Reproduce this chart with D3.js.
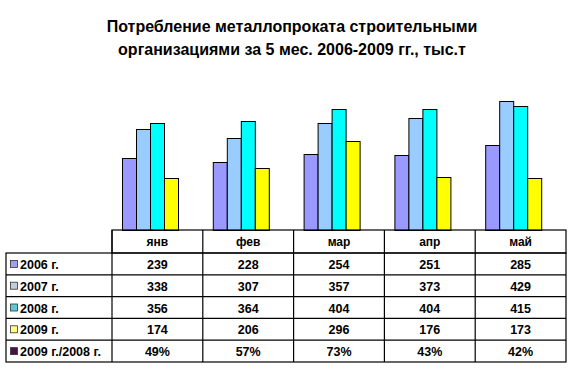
<!DOCTYPE html>
<html>
<head>
<meta charset="utf-8">
<script src="https://cdn.jsdelivr.net/npm/d3@7"></script>
<style>
  body { margin: 0; background: #fff; }
  svg text { font-family: Arial, "Liberation Sans", sans-serif; font-weight: bold; fill: #000; }
</style>
</head>
<body>
<svg id="chart" width="587" height="371"></svg>
<script>
const titleLines = ['Потребление металлопроката строительными', 'организациями за 5 мес. 2006-2009 гг., тыс.т'];
const months = ['янв', 'фев', 'мар', 'апр', 'май'];
const seriesNames = ['2006 г.', '2007 г.', '2008 г.', '2009 г.'];
const v2006 = [239, 228, 254, 251, 285];
const v2007 = [338, 307, 357, 373, 429];
const v2008 = [356, 364, 404, 404, 415];
const v2009 = [174, 206, 296, 176, 173];
const ratioName = '2009 г./2008 г.';
const ratio = ['49%', '57%', '73%', '43%', '42%'];

const barColors = ['#9999ff', '#99ccff', '#00ffff', '#ffff00'];
const keyColors = ['#a0a0f0', '#c4ccd8', '#5cc8d8', '#ffff80', '#4a1048'];
const series = [v2006, v2007, v2008, v2009];

const svg = d3.select('#chart');

svg.selectAll('text.title')
    .data(titleLines)
    .enter().append('text')
    .attr('class', 'title')
    .attr('x', 292)
    .attr('y', (d, i) => 32 + i * 23)
    .attr('text-anchor', 'middle')
    .style('font-size', '16px')
    .text(d => d);

const x = d3.scaleBand().domain(months).range([112, 566]);
const xs = d3.scaleBand().domain(d3.range(series.length)).range([10, 66]);
const y = d3.scaleLinear().domain([0, 500]).range([230, 80]);

// bars
const groups = svg.append('g').selectAll('g')
    .data(months)
    .enter().append('g')
    .attr('transform', d => `translate(${x(d)},0)`);

groups.selectAll('rect')
    .data((m, i) => series.map((s, k) => ({k, v: s[i]})))
    .enter().append('rect')
    .attr('x', d => xs(d.k) + 0.5)
    .attr('y', d => Math.round(y(d.v)) + 0.5)
    .attr('width', xs.bandwidth())
    .attr('height', d => 230 - Math.round(y(d.v)))
    .attr('fill', d => barColors[d.k])
    .attr('stroke', '#000')
    .attr('stroke-width', 1);

// data table
const rows = [...series.map((s, k) => ({name: seriesNames[k], vals: s})), {name: ratioName, vals: ratio}];
const rowY = d3.scaleBand().domain(d3.range(rows.length)).range([253, 362]);
const table = svg.append('g').attr('stroke', '#000').attr('stroke-width', 1.2).attr('fill', 'none');

// header row
table.append('rect').attr('x', 112).attr('y', 230).attr('width', 454).attr('height', 23);
table.append('rect').attr('x', 6).attr('y', 253).attr('width', 560).attr('height', 109);
rows.forEach((r, i) => {
    if (i > 0) table.append('line').attr('x1', 6).attr('x2', 566).attr('y1', rowY(i)).attr('y2', rowY(i));
});
months.forEach((m, i) => {
    table.append('line').attr('x1', x(m)).attr('x2', x(m)).attr('y1', 230).attr('y2', 362);
});

svg.selectAll('text.month')
    .data(months)
    .enter().append('text')
    .attr('x', d => x(d) + x.bandwidth() / 2)
    .attr('y', 246)
    .attr('text-anchor', 'middle')
    .style('font-size', '12px')
    .text(d => d);

rows.forEach((r, i) => {
    const cy = rowY(i) + rowY.bandwidth() / 2;
    svg.append('rect')
        .attr('x', 10.5).attr('y', cy - 3.5)
        .attr('width', 7).attr('height', 7)
        .attr('fill', keyColors[i])
        .attr('stroke', '#333').attr('stroke-width', 0.8);
    svg.append('text')
        .attr('x', 20).attr('y', cy + 5)
        .style('font-size', '12.5px')
        .text(r.name);
    svg.selectAll(null)
        .data(r.vals)
        .enter().append('text')
        .attr('x', (d, j) => x(months[j]) + x.bandwidth() / 2)
        .attr('y', cy + 5)
        .attr('text-anchor', 'middle')
        .style('font-size', '12.5px')
        .text(d => d);
});
</script>
</body>
</html>
